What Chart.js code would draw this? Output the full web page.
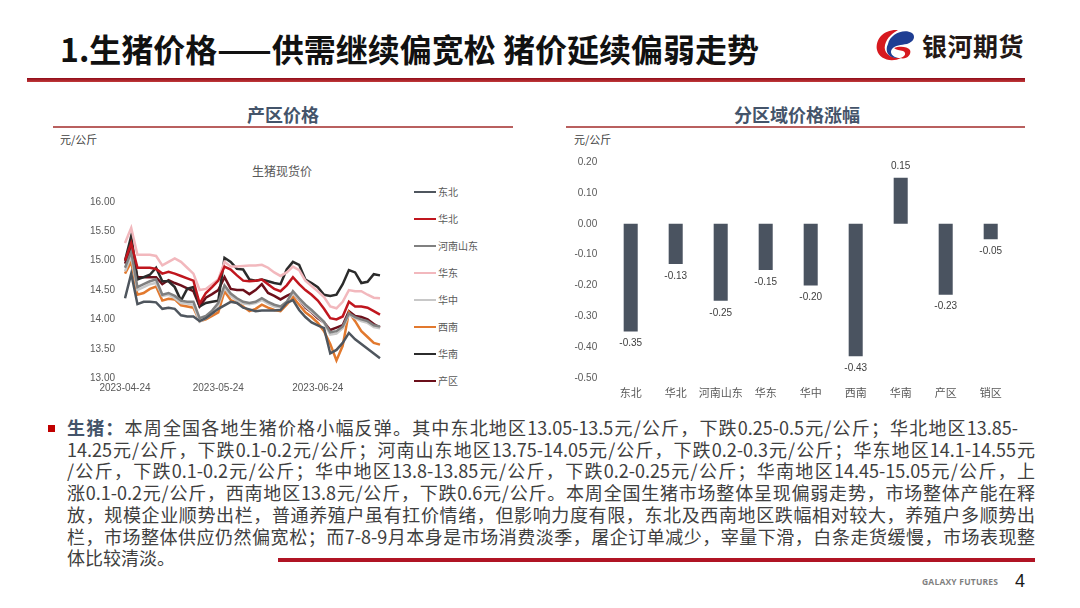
<!DOCTYPE html>
<html>
<head>
<meta charset="utf-8">
<title>生猪价格</title>
<script src="https://cdn.jsdelivr.net/npm/chart.js"></script>
<style>
  body { margin: 0; width: 1080px; height: 608px; overflow: hidden; background: #fff; position: relative;
         font-family: "Noto Sans CJK SC", sans-serif; }
  .abs { position: absolute; }
  #title { left: 60px; top: 28px; font-size: 32px; font-weight: 700; color: #111; line-height: 40px; white-space: nowrap; }
  #topline { left: 27px; top: 78px; width: 998px; height: 4px; background: linear-gradient(#8f0b18, #c23a3a); }
  #brand { left: 922px; top: 29px; font-size: 25px; font-weight: 700; color: #231815; line-height: 32px; letter-spacing: 0.5px; }
  .panelTitle { top: 102px; font-size: 18px; font-weight: 700; color: #44546A; line-height: 24px; text-align: center; }
  .panelLine { top: 126px; height: 2px; background: #b9605f; }
  .unit { top: 131px; font-size: 11px; color: #404040; line-height: 16px; }
  #lineTitle { left: 222px; width: 120px; top: 163px; text-align: center; font-size: 12px; color: #595959; line-height: 16px; }
  #legend { left: 414px; top: 178px; font-size: 10px; color: #595959; }
  .lg { position: relative; height: 27px; }
  .lg i { position: absolute; left: 0; top: 12.5px; width: 22px; height: 2.5px; }
  .lg span { position: absolute; left: 24px; top: 7px; line-height: 14px; white-space: nowrap; }
  #text { left: 67px; top: 417px; font-size: 18px; color: #404040; line-height: 21.7px; }
  #text div { white-space: nowrap; text-align: justify; text-align-last: justify; width: 968px; }
  #text div.last { text-align-last: left; }
  #text b { color: #44546A; }
  #bullet { left: 48px; top: 425px; width: 7px; height: 7px; background: #C00000; }
  #bottomline { left: 278px; top: 558px; width: 757px; height: 4px; background: #b01424; }
  #galaxy { left: 922px; top: 576px; font-family: "Open Sans", sans-serif; font-size: 8.5px; font-weight: 700; color: #7f7f7f; line-height: 12px; letter-spacing: 0.2px; }
  #page { left: 1015px; top: 570px; font-family: "Liberation Sans", sans-serif; font-size: 18px; color: #1a1a1a; line-height: 22px; }
</style>
</head>
<body>
<div id="title" class="abs">1.生猪价格——供需继续偏宽松 猪价延续偏弱走势</div>
<svg class="abs" style="left:874px;top:27px" width="42" height="36" viewBox="0 0 42 36">
  <path d="M24 3 C10 2 1 12 3 23 C5 32 17 36 27 31 C17 32 9 26 11 18 C13 10 19 6 24 3 Z" fill="#D7191F"/>
  <path d="M14 17 C16 7 30 1 38 6 C42 9 40 15 33 17 C27 18 21 18 18 22 C15 26 19 30 24 31 C13 31 11 23 14 17 Z" fill="#1F3E93"/>
  <path d="M20 21 C25 19 33 19 36 23 C38 28 32 33 26 31 C31 30 33 26 29 24 C26 23 22 23 20 21 Z" fill="#D7191F"/>
</svg>
<div id="brand" class="abs">银河期货</div>
<div id="topline" class="abs"></div>

<div class="abs panelTitle" style="left:183px;width:200px">产区价格</div>
<div class="abs panelLine" style="left:53px;width:460px"></div>
<div class="abs unit" style="left:60px">元/公斤</div>
<div class="abs panelTitle" style="left:697px;width:200px">分区域价格涨幅</div>
<div class="abs panelLine" style="left:566px;width:459px"></div>
<div class="abs unit" style="left:574px">元/公斤</div>

<div id="lineTitle" class="abs">生猪现货价</div>
<canvas id="lineChart" class="abs" style="left:55px;top:186px" width="340" height="220"></canvas>
<div id="legend" class="abs"></div>
<canvas id="barChart" class="abs" style="left:565px;top:145px" width="460" height="266"></canvas>

<div id="bullet" class="abs"></div>
<div id="text" class="abs">
  <div style="width:951px"><b>生猪：</b>本周全国各地生猪价格小幅反弹。其中东北地区13.05-13.5元/公斤，下跌0.25-0.5元/公斤；华北地区13.85-</div>
  <div>14.25元/公斤，下跌0.1-0.2元/公斤；河南山东地区13.75-14.05元/公斤，下跌0.2-0.3元/公斤；华东地区14.1-14.55元</div>
  <div>/公斤，下跌0.1-0.2元/公斤；华中地区13.8-13.85元/公斤，下跌0.2-0.25元/公斤；华南地区14.45-15.05元/公斤，上</div>
  <div>涨0.1-0.2元/公斤，西南地区13.8元/公斤，下跌0.6元/公斤。本周全国生猪市场整体呈现偏弱走势，市场整体产能在释</div>
  <div>放，规模企业顺势出栏，普通养殖户虽有扛价情绪，但影响力度有限，东北及西南地区跌幅相对较大，养殖户多顺势出</div>
  <div>栏，市场整体供应仍然偏宽松；而7-8-9月本身是市场消费淡季，屠企订单减少，宰量下滑，白条走货缓慢，市场表现整</div>
  <div class="last">体比较清淡。</div>
</div>
<div id="bottomline" class="abs"></div>
<div id="galaxy" class="abs">GALAXY FUTURES</div>
<div id="page" class="abs">4</div>

<script>
// 生猪现货价 (元/公斤)
const dates = ['2023-04-24','2023-04-26','2023-04-28','2023-04-30','2023-05-02','2023-05-04','2023-05-06','2023-05-08',
  '2023-05-10','2023-05-12','2023-05-14','2023-05-16','2023-05-18','2023-05-20','2023-05-22','2023-05-24',
  '2023-05-26','2023-05-28','2023-05-30','2023-05-31','2023-06-02','2023-06-04','2023-06-06','2023-06-08',
  '2023-06-10','2023-06-12','2023-06-14','2023-06-16','2023-06-18','2023-06-20','2023-06-22','2023-06-24',
  '2023-06-26','2023-06-28','2023-06-30','2023-07-02','2023-07-04','2023-07-06','2023-07-08','2023-07-10',
  '2023-07-12','2023-07-14'];
const xTickLabels = ['2023-04-24', '2023-05-24', '2023-06-24'];

const dongbei   = [14.36,14.78,14.26,14.30,14.30,14.29,14.18,14.20,14.18,14.07,14.05,14.05,13.97,14.02,14.10,14.18,14.24,
                   14.30,14.28,14.20,14.17,14.14,14.15,14.15,14.15,14.16,14.28,14.33,14.16,14.04,13.95,13.90,13.85,13.42,
                   13.48,13.60,13.77,13.66,13.58,13.50,13.42,13.34];
const huabei    = [15.00,15.30,14.88,14.88,14.88,14.86,14.78,14.81,14.78,14.74,14.70,14.66,14.27,14.45,14.55,14.66,14.90,
                   14.85,14.75,14.66,14.65,14.66,14.68,14.60,14.52,14.48,14.58,14.72,14.60,14.50,14.42,14.32,14.18,14.02,
                   14.00,14.05,14.30,14.22,14.22,14.20,14.14,14.08];
const henanShandong = [14.88,15.15,14.55,14.60,14.65,14.68,14.42,14.45,14.40,14.32,14.30,14.30,14.02,14.06,14.15,14.28,14.58,
                   14.44,14.36,14.30,14.28,14.30,14.36,14.30,14.25,14.22,14.30,14.48,14.36,14.25,14.16,14.06,13.96,13.78,
                   13.80,13.88,14.10,14.04,14.00,13.97,13.90,13.88];
const huadong   = [15.30,15.56,15.10,15.10,15.10,15.08,14.92,14.98,15.04,14.98,14.88,14.78,14.50,14.52,14.60,14.68,14.98,
                   14.90,14.90,14.91,14.92,14.92,14.93,14.88,14.80,14.74,14.80,14.90,14.84,14.66,14.57,14.48,14.38,14.22,
                   14.19,14.30,14.50,14.48,14.48,14.42,14.37,14.36];
const huazhong  = [14.82,15.08,14.50,14.55,14.60,14.62,14.40,14.42,14.36,14.28,14.27,14.25,13.96,14.02,14.10,14.24,14.54,
                   14.40,14.32,14.27,14.26,14.28,14.33,14.27,14.22,14.20,14.28,14.45,14.34,14.22,14.13,14.04,13.94,13.74,
                   13.76,13.85,14.08,14.02,13.97,13.94,13.87,13.85];
const xinan     = [14.78,14.98,14.42,14.45,14.52,14.56,14.32,14.35,14.34,14.24,14.22,14.20,13.97,14.00,14.06,14.12,14.48,
                   14.33,14.28,14.22,14.14,14.18,14.25,14.20,14.16,14.14,14.25,14.38,14.25,14.12,14.04,13.94,13.80,13.58,
                   13.30,13.55,14.12,13.97,13.80,13.70,13.60,13.57];
const huanan    = [15.00,15.42,14.68,14.72,14.76,14.88,14.65,14.65,14.55,14.32,14.52,14.55,14.22,14.28,14.30,14.32,15.05,
                   14.98,14.86,14.85,14.68,14.66,14.68,14.65,14.62,14.60,14.85,14.98,14.93,14.68,14.62,14.55,14.42,14.40,
                   14.42,14.60,14.84,14.80,14.62,14.64,14.77,14.75];
const chanqu    = [14.95,15.22,14.72,14.72,14.72,14.72,14.60,14.67,14.62,14.58,14.53,14.48,14.22,14.37,14.43,14.50,14.72,
                   14.52,14.50,14.50,14.43,14.50,14.60,14.45,14.40,14.34,14.40,14.45,14.34,14.20,14.12,14.02,13.95,13.82,
                   13.86,13.90,14.14,14.06,14.04,14.00,13.92,13.86];

const seriesNames  = ['东北', '华北', '河南山东', '华东', '华中', '西南', '华南', '产区'];
const seriesData   = [dongbei, huabei, henanShandong, huadong, huazhong, xinan, huanan, chanqu];
const seriesColors = ['#4f565e', '#c0161e', '#808080', '#f2b8bd', '#c8c8c8', '#e2792e', '#2b2b2b', '#6b0f1a'];
const priceTicks = [13.0, 13.5, 14.0, 14.5, 15.0, 15.5, 16.0];

// 分区域价格涨幅 (元/公斤)
const regions = ['东北', '华北', '河南山东', '华东', '华中', '西南', '华南', '产区', '销区'];
const changes = [-0.35, -0.13, -0.25, -0.15, -0.20, -0.43, 0.15, -0.23, -0.05];
const changeTicks = [0.20, 0.10, 0.00, -0.10, -0.20, -0.30, -0.40, -0.50];

Chart.defaults.font.family = "'Liberation Sans', 'Noto Sans CJK SC', sans-serif";
Chart.defaults.color = '#595959';

new Chart(document.getElementById('lineChart'), {
  type: 'line',
  data: {
    labels: dates,
    datasets: seriesNames.map((name, i) => ({
      label: name,
      data: seriesData[i],
      borderColor: seriesColors[i],
      borderWidth: 2.5,
      pointRadius: 0,
      tension: 0
    }))
  },
  options: {
    responsive: false,
    animation: false,
    layout: { padding: { top: 6.4, right: 15, bottom: 7.9, left: 0 } },
    plugins: { legend: { display: false }, tooltip: { enabled: false } },
    scales: {
      x: {
        grid: { display: false, drawTicks: false },
        border: { display: false },
        ticks: {
          autoSkip: false, maxRotation: 0, padding: 4, font: { size: 10 },
          callback: (v, i) => xTickLabels.includes(dates[i]) ? dates[i] : ''
        }
      },
      y: {
        min: priceTicks[0],
        max: priceTicks[priceTicks.length - 1],
        grid: { display: false, drawTicks: false },
        border: { display: false },
        afterFit: s => { s.width = 70; },
        afterBuildTicks: s => { s.ticks = priceTicks.map(v => ({ value: v })); },
        ticks: { padding: 10, font: { size: 10 }, callback: v => v.toFixed(2) }
      }
    }
  }
});

// legend for the line chart
const legend = document.getElementById('legend');
seriesNames.forEach((name, i) => {
  const row = document.createElement('div');
  row.className = 'lg';
  row.innerHTML = '<i style="background:' + seriesColors[i] + '"></i><span>' + name + '</span>';
  legend.appendChild(row);
});

const barLabels = {
  id: 'barLabels',
  afterDatasetsDraw(chart) {
    const ctx = chart.ctx;
    const meta = chart.getDatasetMeta(0);
    ctx.save();
    ctx.font = "10px 'Liberation Sans', sans-serif";
    ctx.fillStyle = '#404040';
    ctx.textAlign = 'center';
    ctx.textBaseline = 'middle';
    meta.data.forEach((bar, i) => {
      const v = changes[i];
      ctx.fillText(v.toFixed(2), bar.x, v < 0 ? bar.y + 12 : bar.y - 11);
    });
    ctx.restore();
  }
};

new Chart(document.getElementById('barChart'), {
  type: 'bar',
  data: {
    labels: regions,
    datasets: [{ data: changes, backgroundColor: '#4a5360', barPercentage: 0.39, categoryPercentage: 0.8 }]
  },
  options: {
    responsive: false,
    animation: false,
    layout: { padding: { top: 17.3, right: 11.8, bottom: 0, left: 0 } },
    plugins: { legend: { display: false }, tooltip: { enabled: false } },
    scales: {
      x: {
        grid: { display: false, drawTicks: false },
        border: { display: false },
        ticks: { autoSkip: false, maxRotation: 0, padding: 10, font: { size: 11 } }
      },
      y: {
        min: changeTicks[changeTicks.length - 1],
        max: changeTicks[0],
        grid: { display: false, drawTicks: false },
        border: { display: false },
        afterFit: s => { s.width = 43.2; },
        afterBuildTicks: s => { s.ticks = changeTicks.map(v => ({ value: v })); },
        ticks: { padding: 11, font: { size: 10 }, callback: v => (Math.abs(v) < 1e-9 ? 0 : v).toFixed(2) }
      }
    }
  },
  plugins: [barLabels]
});
</script>
</body>
</html>
